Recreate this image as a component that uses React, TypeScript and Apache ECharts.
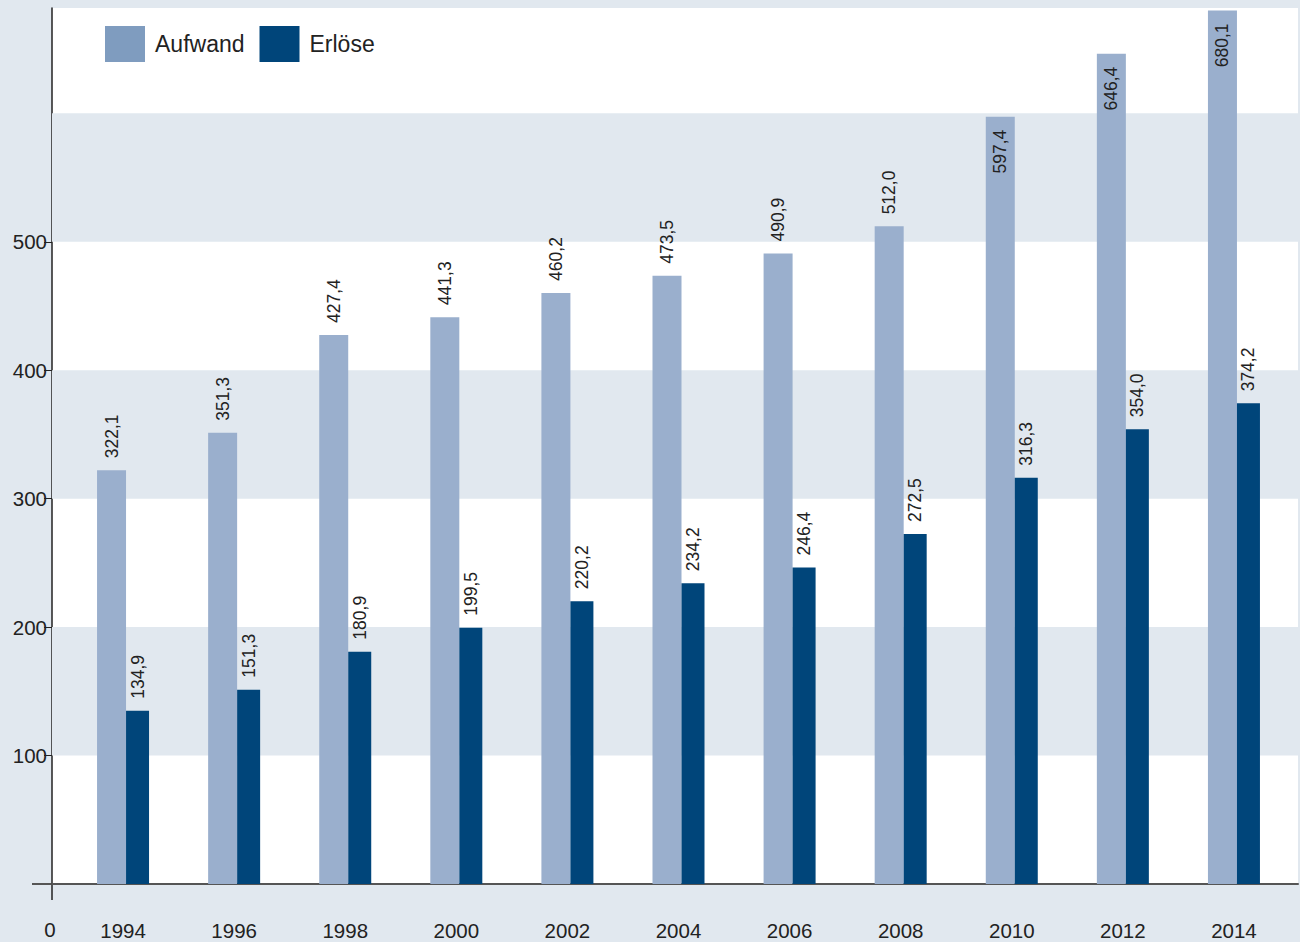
import React, { useEffect, useRef } from "react";
import * as echarts from "echarts";

const years = ["1994", "1996", "1998", "2000", "2002", "2004", "2006", "2008", "2010", "2012", "2014"];
const aufwand = [322.1, 351.3, 427.4, 441.3, 460.2, 473.5, 490.9, 512.0, 597.4, 646.4, 680.1];
const erloese = [134.9, 151.3, 180.9, 199.5, 220.2, 234.2, 246.4, 272.5, 316.3, 354.0, 374.2];
const yTicks = [100, 200, 300, 400, 500];
const shadedBands = [
  [100, 200],
  [300, 400],
  [500, 600],
];
const yMax = 682;

const FONT = "'Liberation Sans', Arial, sans-serif";
const TEXT = "#222222";
const fmt = (p: any) => Number(p.value).toFixed(1).replace(".", ",");

export default function App() {
  const ref = useRef<HTMLDivElement>(null);
  useEffect(() => {
    if (!ref.current) return;
    const chart = echarts.init(ref.current, null, { renderer: "svg" });
    const topLabel = {
      show: true,
      position: "top",
      rotate: 90,
      align: "left",
      verticalAlign: "middle",
      distance: 12,
      fontSize: 17.5,
      color: TEXT,
      fontFamily: FONT,
      formatter: fmt,
    };
    const insideLabel = {
      position: "insideTop",
      align: "right",
      verticalAlign: "middle",
      distance: 13,
    };
    chart.setOption({
      animation: false,
      backgroundColor: "#e1e8ef",
      textStyle: { fontFamily: FONT },
      grid: [
        { left: 52, top: 8, right: 2, bottom: 58, show: true, backgroundColor: "#ffffff", borderWidth: 0 },
        { left: 67.5, top: 8, right: 10.5, bottom: 58 },
      ],
      legend: {
        left: 105,
        top: 26,
        padding: 0,
        itemWidth: 40,
        itemHeight: 36,
        itemGap: 15,
        icon: "rect",
        textStyle: { fontSize: 23, color: TEXT, fontFamily: FONT, padding: [0, 0, 0, 5] },
        data: [
          { name: "Aufwand", itemStyle: { color: "#7f9cbf" } },
          { name: "Erlöse", itemStyle: { color: "#00457a" } },
        ],
      },
      xAxis: [
        {
          gridIndex: 0,
          type: "value",
          min: 0,
          max: 1,
          axisLine: { show: true, lineStyle: { color: "#555555", width: 2 } },
          axisTick: { show: false },
          axisLabel: { show: false },
          splitLine: { show: false },
        },
        {
          gridIndex: 1,
          type: "category",
          data: years,
          axisLine: { show: false },
          axisTick: { show: false },
          axisLabel: { fontSize: 20.5, color: TEXT, margin: 36, fontFamily: FONT },
        },
      ],
      yAxis: [
        {
          gridIndex: 0,
          type: "value",
          min: 0,
          max: yMax,
          interval: 100,
          axisLine: { show: true, lineStyle: { color: "#222222", width: 1.5 } },
          axisTick: { show: true, length: 8, customValues: yTicks, lineStyle: { color: "#222222" } },
          axisLabel: { customValues: yTicks, fontSize: 20.5, color: TEXT, margin: 5, fontFamily: FONT },
          splitLine: { show: false },
          splitArea: { show: false },
        },
        { gridIndex: 1, type: "value", min: 0, max: yMax, show: false },
      ],
      series: [
        {
          type: "line",
          name: "bands",
          xAxisIndex: 0,
          yAxisIndex: 0,
          data: [],
          silent: true,
          z: 0,
          markArea: {
            silent: true,
            itemStyle: { color: "#e1e8ef" },
            data: shadedBands.map(([a, b]) => [{ yAxis: a }, { yAxis: b }]),
          },
        },
        {
          type: "bar",
          name: "Aufwand",
          xAxisIndex: 1,
          yAxisIndex: 1,
          barWidth: 29,
          barGap: "0%",
          itemStyle: { color: "#9aafcd" },
          label: topLabel,
          data: aufwand.map((v) => (v > 580 ? { value: v, label: insideLabel } : { value: v })),
        },
        {
          type: "bar",
          name: "Erlöse",
          xAxisIndex: 1,
          yAxisIndex: 1,
          barWidth: 23,
          barGap: "0%",
          itemStyle: { color: "#00457a" },
          label: topLabel,
          data: erloese,
        },
      ],
      graphic: [
        { type: "line", shape: { x1: 52, y1: 884, x2: 52, y2: 900 }, style: { stroke: "#222222", lineWidth: 1.5 } },
        { type: "line", shape: { x1: 32, y1: 884, x2: 52, y2: 884 }, style: { stroke: "#555555", lineWidth: 2 } },
        {
          type: "text",
          x: 50,
          y: 929.5,
          style: { text: "0", fontSize: 20.5, fill: TEXT, fontFamily: FONT, textAlign: "center", textVerticalAlign: "middle" },
        },
      ],
    });
    return () => chart.dispose();
  }, []);
  return (
    <div
      ref={ref}
      style={{ position: "fixed", left: 0, top: 0, width: 1300, height: 942, background: "#e1e8ef" }}
    />
  );
}
